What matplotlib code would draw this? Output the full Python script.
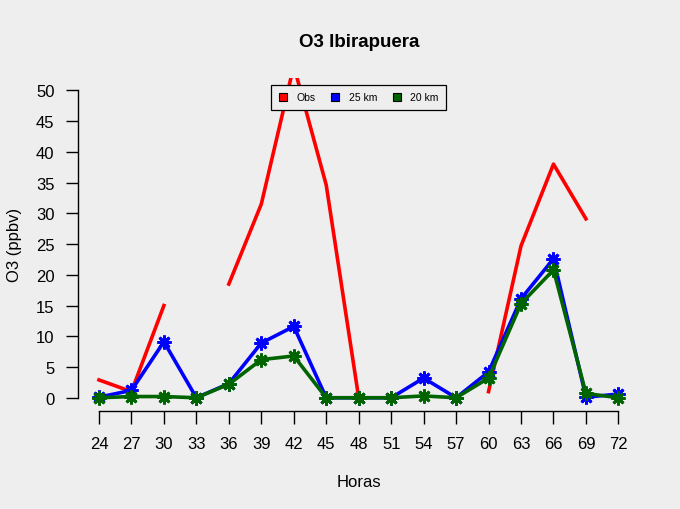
import numpy as np
import matplotlib
matplotlib.use("Agg")
import matplotlib.pyplot as plt
from matplotlib.patches import Patch

plt.rcParams['font.family'] = ['Liberation Sans', 'DejaVu Sans']

# Datos
horas = [24, 27, 30, 33, 36, 39, 42, 45, 48, 51, 54, 57, 60, 63, 66, 69, 72]
obs = [2.9, 1.0, 15.0, np.nan, 18.5, 31.5, 54.0, 34.6, 0.0, np.nan, np.nan, np.nan,
       1.0, 24.7, 38.0, 29.1, np.nan]
km25 = [0.1, 1.2, 9.1, 0.0, 2.3, 8.9, 11.6, 0.0, 0.0, 0.0, 3.2, 0.0,
        4.2, 16.1, 22.6, 0.1, 0.6]
km20 = [0.0, 0.2, 0.2, 0.0, 2.2, 6.2, 6.8, 0.0, 0.0, 0.0, 0.3, 0.0,
        3.2, 15.3, 20.8, 0.7, 0.0]

fundo = '#EEEEEE'
verde = '#006400'

fig = plt.figure(figsize=(6.8, 5.1), dpi=100, facecolor=fundo)
ax = fig.add_axes([0.115, 0.194, 0.825, 0.651], facecolor=fundo)

ax.plot(horas, obs, color='red', lw=2.6, zorder=2)
ax.plot(horas, km25, color='blue', lw=2.6, marker=(8, 2, 0), ms=10, mew=2.0,
        zorder=3)
ax.plot(horas, km20, color=verde, lw=2.6, marker=(8, 2, 0), ms=10, mew=2.0,
        zorder=4)

ax.set_xlim(22.08, 73.92)
ax.set_ylim(-2, 52)

for s in ['top', 'right']:
    ax.spines[s].set_visible(False)
ax.spines['left'].set_bounds(0, 50)
ax.spines['bottom'].set_bounds(24, 72)
ax.spines['bottom'].set_position(('outward', 1))
for s in ['left', 'bottom']:
    ax.spines[s].set_linewidth(1.0)

ax.set_xticks(horas)
ax.set_yticks(range(0, 51, 5))
ax.tick_params(axis='both', length=9, width=1.0, labelsize=12)
ax.tick_params(axis='x', pad=9)
ax.tick_params(axis='y', pad=8)

ax.set_title('O3 Ibirapuera', fontsize=13.5, fontweight='bold', pad=23)
ax.set_xlabel('Horas', fontsize=12, labelpad=16)
ax.set_ylabel('O3 (ppbv)', fontsize=12, labelpad=10)

handles = [Patch(facecolor='red', edgecolor='black', lw=0.8),
           Patch(facecolor='blue', edgecolor='black', lw=0.8),
           Patch(facecolor=verde, edgecolor='black', lw=0.8)]
leg = ax.legend(handles, ['Obs', '25 km', '20 km'], ncol=3, fontsize=7.5,
                loc='upper center', bbox_to_anchor=(0.5, 0.995),
                frameon=True, fancybox=False, edgecolor='black',
                facecolor=fundo, framealpha=1, handlelength=0.8,
                handleheight=0.8, handletextpad=0.9, columnspacing=1.5,
                borderpad=0.7)
leg.get_frame().set_linewidth(0.9)

fig.savefig('out.png', dpi=100, facecolor=fundo)
